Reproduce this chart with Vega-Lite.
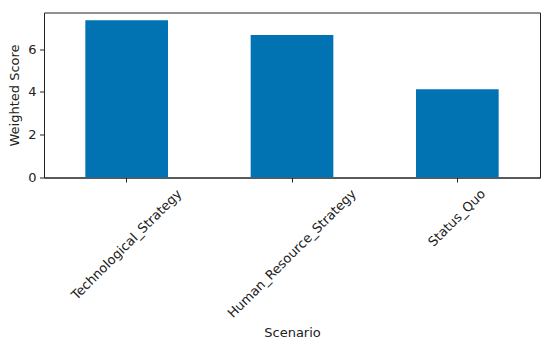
{
  "$schema": "https://vega.github.io/schema/vega-lite/v6.json",
  "width": 496,
  "height": 165,
  "autosize": "none",
  "padding": {"left": 44, "top": 12.5, "right": 10, "bottom": 166.5},
  "background": "white",
  "config": {
    "font": "DejaVu Sans",
    "view": {"stroke": "#222", "strokeWidth": 1},
    "axis": {
      "labelFont": "DejaVu Sans",
      "titleFont": "DejaVu Sans",
      "labelFontSize": 13,
      "titleFontSize": 13,
      "titleFontWeight": "normal",
      "labelColor": "#222",
      "titleColor": "#222",
      "tickColor": "#222",
      "domainColor": "#222",
      "grid": false,
      "tickSize": 4.5
    }
  },
  "data": {
    "values": [
      {"Scenario": "Technological_Strategy", "score": 7.34},
      {"Scenario": "Human_Resource_Strategy", "score": 6.66},
      {"Scenario": "Status_Quo", "score": 4.12}
    ]
  },
  "mark": {"type": "bar", "color": "#0173B2"},
  "encoding": {
    "x": {
      "field": "Scenario",
      "type": "nominal",
      "sort": null,
      "scale": {"paddingInner": 0.5, "paddingOuter": 0.25},
      "axis": {
        "title": "Scenario",
        "labelAngle": -45,
        "labelAlign": "right",
        "labelBaseline": "middle",
        "labelPadding": 9.4,
        "labelOverlap": false,
        "labelOffset": {
          "condition": [
            {"test": "datum.value === 'Technological_Strategy'", "value": 53},
            {"test": "datum.value === 'Human_Resource_Strategy'", "value": 62}
          ],
          "value": 26
        },
        "titlePadding": 6
      }
    },
    "y": {
      "field": "score",
      "type": "quantitative",
      "scale": {"domain": [0, 7.707], "nice": false},
      "axis": {"values": [0, 2, 4, 6], "title": "Weighted Score", "labelPadding": 3.5, "titlePadding": 6}
    }
  }
}
